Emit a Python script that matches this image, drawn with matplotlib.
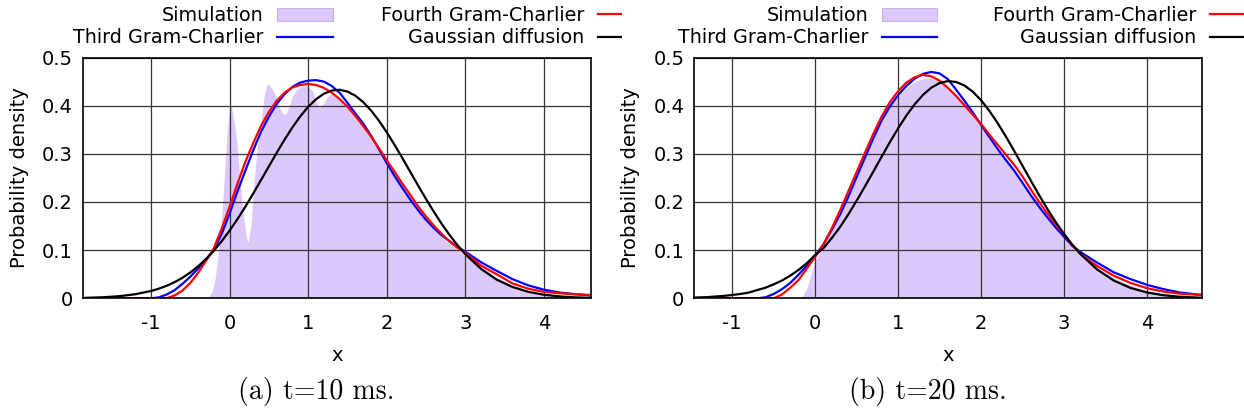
import matplotlib
matplotlib.use("Agg")
import matplotlib.pyplot as plt
from matplotlib.patches import Patch
from matplotlib.lines import Line2D
from matplotlib.transforms import Bbox, TransformedBbox

# ---- panel (a): t = 10 ms ----
xa = [-1.87, -1.6, -1.4, -1.2, -1.0, -0.9, -0.8, -0.7, -0.6, -0.5, -0.4, -0.3, -0.2, -0.1,
      0.0, 0.1, 0.2, 0.3, 0.4, 0.5, 0.6, 0.7, 0.8, 0.9, 1.0, 1.1, 1.2, 1.3, 1.4, 1.5,
      1.6, 1.7, 1.8, 1.9, 2.0, 2.1, 2.2, 2.3, 2.4, 2.5, 2.6, 2.7, 2.8, 2.9, 3.0,
      3.2, 3.4, 3.6, 3.8, 4.0, 4.2, 4.4, 4.6]
gauss_a = [0.0008, 0.0023, 0.0045, 0.0085, 0.0152, 0.0201, 0.0261, 0.0336, 0.0427, 0.0537,
           0.0666, 0.0818, 0.0991, 0.1187, 0.1406, 0.1645, 0.1901, 0.2174, 0.2456, 0.2739,
           0.3023, 0.3295, 0.3550, 0.3779, 0.3976, 0.4134, 0.4248, 0.4314, 0.4330, 0.4293,
           0.4208, 0.4076, 0.3902, 0.3691, 0.3450, 0.3187, 0.2911, 0.2626, 0.2341, 0.2064,
           0.1798, 0.1547, 0.1316, 0.1106, 0.0919, 0.0612, 0.0388, 0.0236, 0.0136, 0.0075,
           0.0040, 0.0020, 0.0009]
third_a = [0, 0, 0, 0, 0, 0.002, 0.008, 0.017, 0.030, 0.045, 0.062, 0.080, 0.100, 0.134,
           0.176, 0.222, 0.265, 0.307, 0.346, 0.377, 0.404, 0.424, 0.439, 0.448, 0.452,
           0.453, 0.450, 0.441, 0.427, 0.406, 0.384, 0.363, 0.338, 0.310, 0.281, 0.254,
           0.229, 0.205, 0.183, 0.163, 0.146, 0.131, 0.119, 0.107, 0.097, 0.075, 0.057,
           0.040, 0.027, 0.018, 0.012, 0.0085, 0.006]
fourth_a = [0, 0, 0, 0, 0, 0, 0.0005, 0.006, 0.016, 0.032, 0.053, 0.078, 0.104, 0.145,
            0.190, 0.238, 0.283, 0.322, 0.358, 0.387, 0.410, 0.427, 0.438, 0.443, 0.445,
            0.443, 0.437, 0.427, 0.414, 0.398, 0.379, 0.358, 0.336, 0.312, 0.287, 0.263,
            0.238, 0.215, 0.191, 0.170, 0.151, 0.134, 0.118, 0.105, 0.095, 0.068, 0.050,
            0.031, 0.020, 0.0135, 0.0105, 0.0085, 0.007]
xs_a = [-1.87, -0.3, -0.26, -0.22, -0.18, -0.14, -0.1, -0.06, -0.03, 0.0, 0.02, 0.05, 0.09,
        0.13, 0.17, 0.21, 0.235, 0.27, 0.31, 0.35, 0.4, 0.44, 0.48, 0.52, 0.56, 0.6, 0.64,
        0.68, 0.72, 0.76, 0.8, 0.86, 0.92, 1.0, 1.06, 1.1, 1.14, 1.18, 1.24, 1.3, 1.4, 1.5,
        1.6, 1.7, 1.8, 1.9, 2.0, 2.1, 2.2, 2.3, 2.4, 2.5, 2.6, 2.7, 2.8, 2.9, 3.0, 3.2,
        3.4, 3.6, 3.8, 4.0, 4.2, 4.4, 4.6]
sim_a = [0, 0, 0.004, 0.015, 0.045, 0.10, 0.17, 0.27, 0.35, 0.395, 0.402, 0.375, 0.33,
         0.25, 0.18, 0.13, 0.115, 0.15, 0.24, 0.31, 0.365, 0.42, 0.446, 0.44, 0.43, 0.415,
         0.395, 0.383, 0.383, 0.40, 0.42, 0.435, 0.44, 0.44, 0.43, 0.41, 0.395, 0.40, 0.418,
         0.425, 0.412, 0.396, 0.377, 0.355, 0.332, 0.309, 0.284, 0.259, 0.234, 0.210, 0.187,
         0.166, 0.146, 0.129, 0.113, 0.101, 0.091, 0.066, 0.044, 0.027, 0.016, 0.009, 0.005,
         0.003, 0.002]

# ---- panel (b): t = 20 ms ----
xb = [-1.46, -1.3, -1.1, -0.9, -0.8, -0.7, -0.6, -0.5, -0.4, -0.3, -0.2, -0.1,
      0.0, 0.1, 0.2, 0.3, 0.4, 0.5, 0.6, 0.7, 0.8, 0.9, 1.0, 1.1, 1.2, 1.3, 1.4, 1.5,
      1.6, 1.7, 1.8, 1.9, 2.0, 2.1, 2.2, 2.3, 2.4, 2.5, 2.6, 2.7, 2.8, 2.9, 3.0, 3.1,
      3.2, 3.4, 3.6, 3.8, 4.0, 4.2, 4.4, 4.66]
gauss_b = [0.0015, 0.0025, 0.005, 0.009, 0.012, 0.017, 0.022, 0.029, 0.037, 0.047, 0.059,
           0.073, 0.090, 0.104, 0.125, 0.148, 0.1743, 0.2025, 0.2322, 0.2627, 0.2936,
           0.3239, 0.3529, 0.3795, 0.4029, 0.4224, 0.4373, 0.4469, 0.4510, 0.4492, 0.4418,
           0.4290, 0.4114, 0.3893, 0.3639, 0.3358, 0.3059, 0.2752, 0.2444, 0.2142, 0.1854,
           0.1585, 0.1337, 0.1114, 0.0916, 0.0597, 0.0369, 0.0217, 0.0121, 0.0064, 0.0032,
           0.0012]
third_b = [0, 0, 0, 0, 0, 0, 0.002, 0.009, 0.019, 0.032, 0.049, 0.068, 0.089, 0.112, 0.142,
           0.174, 0.211, 0.252, 0.292, 0.332, 0.369, 0.398, 0.422, 0.441, 0.456, 0.466,
           0.470, 0.467, 0.455, 0.433, 0.410, 0.386, 0.360, 0.335, 0.310, 0.287, 0.265,
           0.240, 0.214, 0.190, 0.168, 0.147, 0.128, 0.109, 0.096, 0.074, 0.054, 0.040,
           0.028, 0.019, 0.012, 0.007]
fourth_b = [0, 0, 0, 0, 0, 0, 0, 0, 0.008, 0.022, 0.038, 0.062, 0.086, 0.112, 0.145,
            0.182, 0.222, 0.262, 0.302, 0.341, 0.377, 0.407, 0.430, 0.448, 0.459, 0.464,
            0.461, 0.452, 0.437, 0.420, 0.401, 0.381, 0.362, 0.340, 0.319, 0.298, 0.277,
            0.253, 0.226, 0.200, 0.176, 0.154, 0.133, 0.110, 0.092, 0.067, 0.047, 0.032,
            0.021, 0.014, 0.0095, 0.007]
xs_b = [-1.46, -0.2, -0.15, -0.1, -0.05, 0.0, 0.1, 0.2, 0.3, 0.4, 0.5, 0.6, 0.7, 0.8, 0.9,
        1.0, 1.1, 1.2, 1.3, 1.4, 1.5, 1.6, 1.7, 1.8, 1.9, 2.0, 2.2, 2.4, 2.6, 2.8, 3.0,
        3.2, 3.4, 3.6, 3.8, 4.0, 4.2, 4.4, 4.66]
sim_b = [0, 0, 0.005, 0.02, 0.05, 0.08, 0.11, 0.143, 0.178, 0.216, 0.257, 0.297, 0.336,
         0.372, 0.40, 0.42, 0.437, 0.45, 0.456, 0.457, 0.452, 0.44, 0.42, 0.40, 0.378,
         0.356, 0.308, 0.265, 0.213, 0.17, 0.128, 0.092, 0.064, 0.043, 0.027, 0.016, 0.009,
         0.005, 0.003]

xticks = [-1, 0, 1, 2, 3, 4]
xtick_labels = ["-1", "0", "1", "2", "3", "4"]
yticks = [0, 0.1, 0.2, 0.3, 0.4, 0.5]
ytick_labels = ["0", "0.1", "0.2", "0.3", "0.4", "0.5"]
legend_labels = ["Simulation", "Third Gram-Charlier", "Fourth Gram-Charlier", "Gaussian diffusion"]

panels = [
    dict(x=xa, g=gauss_a, t3=third_a, t4=fourth_a, xs=xs_a, sim=sim_a,
         xlim=(-1.87, 4.6), rect=[0.0665, 0.2846, 0.4085, 0.5775],
         caption="(a) t=10 ms.", cap_x=0.254, leg_right=0.525, colsp=2.5, clip=(0.0, 0.5)),
    dict(x=xb, g=gauss_b, t3=third_b, t4=fourth_b, xs=xs_b, sim=sim_b,
         xlim=(-1.46, 4.66), rect=[0.5579, 0.2846, 0.4081, 0.5775],
         caption="(b) t=20 ms.", cap_x=0.746, leg_right=1.017, colsp=2.9, clip=(0.5, 1.0)),
]

fill_col = "#dcc8fa"
fig = plt.figure(figsize=(12.44, 4.17), dpi=100)

for p in panels:
    ax = fig.add_axes(p["rect"])
    ax.fill_between(p["xs"], 0, p["sim"], color=fill_col, lw=0, zorder=1)
    ax.plot(p["x"], p["t3"], color="#0000ff", lw=1.6, zorder=4)
    ax.plot(p["x"], p["t4"], color="#ff0000", lw=1.6, zorder=5)
    ax.plot(p["x"], p["g"], color="black", lw=1.6, zorder=6)

    ax.set_xlim(p["xlim"])
    ax.set_ylim(0, 0.5)
    ax.set_xticks(xticks)
    ax.set_xticklabels(xtick_labels)
    ax.set_yticks(yticks)
    ax.set_yticklabels(ytick_labels)
    ax.tick_params(axis="both", length=0, labelsize=14)
    ax.tick_params(axis="x", pad=11)
    ax.tick_params(axis="y", pad=7)
    ax.grid(True, color="#333333", lw=0.9, zorder=2)
    ax.set_axisbelow(False)
    for s in ax.spines.values():
        s.set_linewidth(1.2)
        s.set_zorder(7)

    ax.set_ylabel("Probability density", fontsize=14)
    ax.yaxis.set_label_coords(-0.106, 0.5)
    ax.set_xlabel("x", fontsize=14)
    ax.xaxis.set_label_coords(0.5, -0.2)

    handles = [
        Patch(facecolor=fill_col, edgecolor="#c9b0f0", lw=0.8),
        Line2D([], [], color="#0000ff", lw=1.6),
        Line2D([], [], color="#ff0000", lw=1.6),
        Line2D([], [], color="black", lw=1.6),
    ]
    leg = ax.legend(handles, legend_labels, ncol=2, markerfirst=False, frameon=False,
                    fontsize=13.8, loc="upper right", bbox_to_anchor=(p["leg_right"], 0.985),
                    bbox_transform=fig.transFigure, handlelength=2.9, handleheight=0.72,
                    columnspacing=p["colsp"], labelspacing=0.16, handletextpad=0.7,
                    borderpad=0, borderaxespad=0)
    # the key runs past its half of the page and is cut there
    cbox = TransformedBbox(Bbox([[p["clip"][0], 0], [p["clip"][1], 1]]), fig.transFigure)
    for art in leg.get_lines() + leg.get_patches() + leg.get_texts():
        art.set_clip_box(cbox)
        art.set_clip_on(True)

    fig.text(p["cap_x"], 0.06, p["caption"], ha="center", va="center",
             fontsize=20, family="cmr10")

fig.savefig("out.png", dpi=100)
